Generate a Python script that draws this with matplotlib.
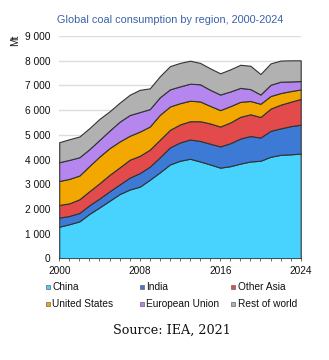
import numpy as np
import matplotlib; matplotlib.use("Agg"); import matplotlib.pyplot as plt
from matplotlib.patches import Rectangle
from matplotlib.ticker import FuncFormatter, MultipleLocator

years = list(range(2000, 2025))
china = [1280, 1380, 1495, 1800, 2060, 2330, 2600, 2785, 2900, 3180, 3480, 3800, 3950,
         4030, 3920, 3800, 3670, 3730, 3835, 3920, 3950, 4110, 4190, 4210, 4240]
india = [365, 335, 340, 350, 360, 385, 390, 480, 550, 530, 610, 690, 740,
         780, 830, 840, 860, 930, 1015, 1030, 940, 1050, 1070, 1140, 1170]
other_asia = [515, 510, 555, 570, 620, 665, 690, 725, 700, 690, 710, 710, 730,
              740, 800, 820, 805, 840, 880, 880, 830, 900, 960, 990, 1040]
united_states = [970, 990, 960, 1020, 1080, 1080, 1050, 970, 980, 935, 1010, 945, 860,
                 830, 800, 710, 665, 660, 605, 540, 535, 510, 470, 430, 385]
eu = [760, 770, 740, 680, 675, 710, 800, 840, 790, 705, 710, 695, 680,
      690, 695, 650, 630, 595, 565, 480, 375, 455, 460, 390, 340]
rest_of_world = [810, 835, 840, 850, 850, 780, 770, 820, 900, 840, 850, 940, 950,
                 930, 865, 870, 860, 895, 935, 945, 830, 865, 855, 855, 840]
labels = ["China", "India", "Other Asia", "United States", "European Union", "Rest of world"]
colors = ["#47d3fd", "#3d7ad5", "#e34a4c", "#f2a800", "#b586ee", "#b1b1b1"]

fig = plt.figure(figsize=(3.29, 3.6), dpi=100)
ax = fig.add_axes([0.180, 0.2825, 0.734, 0.6175])
ax.stackplot(years, china, india, other_asia, united_states, eu, rest_of_world,
             colors=colors, edgecolor="#333333", linewidth=0.8, zorder=3)
ax.set_xlim(2000, 2024); ax.set_ylim(0, 9000)
ax.yaxis.set_major_locator(MultipleLocator(1000))
ax.yaxis.set_major_formatter(FuncFormatter(lambda v, p: f"{v:,.0f}".replace(",", " ")))
ax.set_xticks([2000, 2008, 2016, 2024])
ax.xaxis.set_minor_locator(MultipleLocator(1))
ax.grid(axis="y", color="#dcdcdc", lw=1.0, zorder=0)
for s in ("top", "right", "left"): ax.spines[s].set_visible(False)
ax.spines["bottom"].set_color("#555555"); ax.spines["bottom"].set_linewidth(0.8)
ax.tick_params(axis="y", length=0, pad=6.5, labelsize=7.3, labelcolor="#111111")
ax.tick_params(axis="x", which="both", length=2.5, width=0.6, color="#555555",
               direction="out", labelsize=7.3, labelcolor="#111111", pad=3)
for t in ax.get_xticklabels() + ax.get_yticklabels(): t.set_family("Liberation Sans")

fig.text(0.517, 0.944, "Global coal consumption by region, 2000-2024", ha="center", va="center",
         color="#3a62a8", fontsize=7.8, family="Liberation Sans")
fig.text(0.045, 0.887, "Mt", rotation=90, ha="center", va="center", fontsize=7.3,
         color="#111111", family="Liberation Sans")

# legend, 2 rows x 3 cols
lx = [48, 142, 233]; ly = [287, 304]
for i, (lab, c) in enumerate(zip(labels, colors)):
    x = lx[i % 3] / 329; y = 1 - ly[i // 3] / 360
    fig.add_artist(Rectangle((x - 2.3 / 329, y - 2.3 / 360), 4.6 / 329, 4.6 / 360,
                             facecolor=c, edgecolor="#666666", lw=0.5, transform=fig.transFigure))
    fig.text(x + 4.5 / 329, y, lab, ha="left", va="center", fontsize=7.3,
             color="#111111", family="Liberation Sans")

fig.text(0.523, 0.083, "Source: IEA, 2021", ha="center", va="center", fontsize=9.2,
         family="DejaVu Serif", color="#111111")
fig.savefig("out.png", dpi=100)
